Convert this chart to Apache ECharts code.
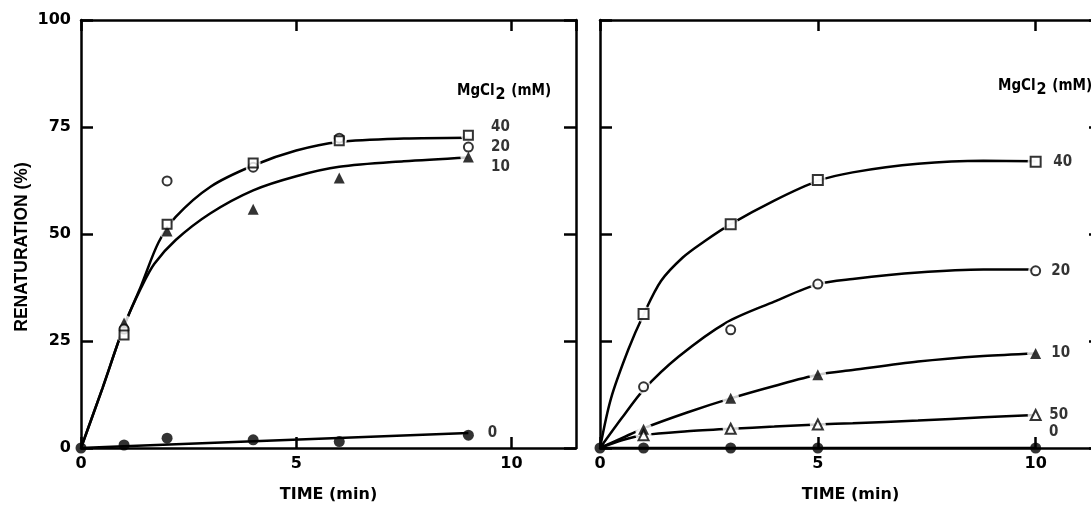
<!DOCTYPE html>
<html>
<head>
<meta charset="utf-8">
<script src="https://cdn.jsdelivr.net/npm/echarts@6/dist/echarts.min.js"></script>
<style>
html,body{margin:0;padding:0;background:#fff;}
#chart{width:1091px;height:506px;}
</style>
</head>
<body>
<div id="chart"></div>
<script>
// ---------- data ----------
// Left panel
const leftTime = [1, 2, 4, 6, 9];
const left40 = [26.4, 52.3, 66.6, 71.8, 73.1];
const left20 = [27.8, 62.4, 65.6, 72.4, 70.3];
const left10 = [29.2, 50.7, 55.8, 63.1, 68.0];
const left0Time = [0, 1, 2, 4, 6, 9];
const left0 = [0, 0.7, 2.3, 1.9, 1.5, 3.0];
const leftCurveTime = [0, 0.5, 1, 1.4, 1.8, 2.2, 3, 4, 5, 6, 7.5, 9];
const leftCurveUpper = [0, 14, 28.5, 38, 48, 54, 61, 66, 69.5, 71.5, 72.3, 72.5];
const leftCurveLowerTime = [0, 0.5, 1, 1.4, 1.7, 2.2, 3, 4, 5, 6, 7.5, 9];
const leftCurveLower = [0, 14, 28.5, 37.5, 43, 48.6, 54.8, 60.2, 63.5, 65.7, 67.0, 67.9];
const left0CurveTime = [0, 1, 9];
const left0Curve = [0, 0.4, 3.5];

// Right panel
const rightTime = [1, 3, 5, 10];
const right40 = [31.3, 52.3, 62.6, 66.9];
const right20 = [14.3, 27.6, 38.3, 41.4];
const right10 = [4.4, 11.6, 17.1, 22.1];
const right50 = [3.0, 4.5, 5.5, 7.7];
const right0Time = [0, 1, 3, 5, 10];
const right0 = [0, 0, 0, 0, 0];
const rightCurve40Time = [0, 0.25, 0.65, 1, 1.4, 1.9, 2.4, 3, 4, 5, 5.8, 7.3, 8.8, 10];
const rightCurve40 = [0, 11.5, 23, 31.2, 39, 44.5, 48.3, 52.3, 57.8, 62.4, 64.4, 66.4, 67.1, 67.0];
const rightCurve20Time = [0, 0.5, 1, 1.8, 2.9, 4, 5, 5.8, 7.3, 8.8, 10];
const rightCurve20 = [0, 7, 13.6, 21.3, 29.3, 34.2, 38.3, 39.5, 41.0, 41.7, 41.7];
const rightCurveTime = [0, 0.5, 1, 2, 3, 4, 5, 5.8, 7.3, 8.8, 10];
const rightCurve10 = [0, 2.3, 4.6, 8.3, 11.6, 14.5, 17.1, 18.2, 20.2, 21.5, 22.1];
const rightCurve50 = [0, 1.8, 3.0, 3.9, 4.5, 5.0, 5.5, 5.8, 6.4, 7.2, 7.7];
const rightCurve0Time = [0, 10];
const rightCurve0 = [0, 0];

// Axis ticks / labels
const xTicks = { min: 0, max: 11.5, interval: 5 };
const yTicks = { min: 0, max: 100, interval: 25 };
const xName = 'TIME (min)';
const yName = 'RENATURATION (%)';
const headingText = 'MgCl{s|2} (mM)';

// ---------- styling helpers ----------
const BLACK = '#000';
const tickFont = { fontFamily: 'DejaVu Sans', fontWeight: 'bold', fontSize: 16, color: BLACK };
const seriesLabelFont = { fontFamily: 'DejaVu Sans Condensed', fontWeight: 'bold', fontSize: 15, color: BLACK };

const pairs = (xs, ys) => xs.map((x, i) => [x, ys[i]]);

function curve(gridIdx, xs, ys) {
  return {
    type: 'line', xAxisIndex: gridIdx * 2, yAxisIndex: gridIdx * 2,
    data: pairs(xs, ys), smooth: 0.3,
    showSymbol: false, symbol: 'none', silent: true, z: 2,
    lineStyle: { color: BLACK, width: 2.5 }
  };
}
function halo(gridIdx, xs, ys, size) {
  return {
    type: 'scatter', xAxisIndex: gridIdx * 2, yAxisIndex: gridIdx * 2,
    data: pairs(xs, ys), symbol: 'circle', symbolSize: size + 6, silent: true, z: 3,
    itemStyle: { color: '#fff', borderWidth: 0 }
  };
}
function markers(gridIdx, xs, ys, symbol, filled, size, text, offset) {
  const last = xs.length - 1;
  return {
    type: 'scatter', xAxisIndex: gridIdx * 2, yAxisIndex: gridIdx * 2,
    symbol: symbol, symbolSize: size, silent: true, z: 4,
    itemStyle: filled ? { color: BLACK, borderWidth: 0 }
                      : { color: '#fff', borderColor: BLACK, borderWidth: 2 },
    data: pairs(xs, ys).map((v, i) => i === last && text ? {
      value: v,
      label: Object.assign({ show: true, formatter: text, position: 'inside',
        align: 'center', verticalAlign: 'middle', offset: offset }, seriesLabelFont)
    } : { value: v })
  };
}

function xAxes(gridIdx) {
  const base = Object.assign({ type: 'value', gridIndex: gridIdx }, xTicks);
  const line = { show: true, onZero: false, lineStyle: { color: BLACK, width: 2.5 } };
  const tick = { show: true, inside: true, length: 11, lineStyle: { color: BLACK, width: 2.5 } };
  return [
    Object.assign({}, base, {
      position: 'bottom', axisLine: line, axisTick: tick, splitLine: { show: false },
      axisLabel: Object.assign({ show: true, margin: 8, showMaxLabel: false, showMinLabel: true }, tickFont),
      name: xName, nameLocation: 'middle', nameGap: 39,
      nameTextStyle: { fontFamily: 'DejaVu Sans', fontWeight: 'bold', fontSize: 16, color: BLACK }
    }),
    Object.assign({}, base, {
      position: 'top', axisLine: line, axisTick: tick, splitLine: { show: false },
      axisLabel: { show: false }
    })
  ];
}
function yAxes(gridIdx, showLabels) {
  const base = Object.assign({ type: 'value', gridIndex: gridIdx }, yTicks);
  const line = { show: true, onZero: false, lineStyle: { color: BLACK, width: 2.5 } };
  const tick = { show: true, inside: true, length: 12, lineStyle: { color: BLACK, width: 2.5 } };
  const left = Object.assign({}, base, {
    position: 'left', axisLine: line, axisTick: tick, splitLine: { show: false },
    axisLabel: Object.assign({ show: showLabels, margin: 10 }, tickFont)
  });
  if (showLabels) {
    Object.assign(left, {
      name: yName, nameLocation: 'middle', nameGap: 50,
      nameTextStyle: { fontFamily: 'Liberation Sans', fontWeight: 'bold', fontSize: 17.5,
        color: BLACK, padding: [0, 26, 0, 0] }
    });
  }
  return [
    left,
    Object.assign({}, base, {
      position: 'right', axisLine: line, axisTick: tick, splitLine: { show: false },
      axisLabel: { show: false }
    })
  ];
}

const headingStyle = {
  fontFamily: 'DejaVu Sans Condensed', fontWeight: 'bold', fontSize: 15, color: BLACK,
  rich: { s: { fontFamily: 'DejaVu Sans Condensed', fontWeight: 'bold', fontSize: 16,
    color: BLACK, verticalAlign: 'bottom', padding: [7, 1, 0, 1] } }
};

const option = {
  animation: false,
  backgroundColor: '#fff',
  title: [
    { text: headingText, left: 457, top: 80, textStyle: headingStyle, padding: 0 },
    { text: headingText, left: 998, top: 75, textStyle: headingStyle, padding: 0 }
  ],
  grid: [
    { left: 81, right: 515, top: 20, bottom: 58, outerBoundsMode: 'none', containLabel: false },
    { left: 600, right: -10, top: 20, bottom: 58, outerBoundsMode: 'none', containLabel: false }
  ],
  xAxis: [].concat(xAxes(0), xAxes(1)),
  yAxis: [].concat(yAxes(0, true), yAxes(1, false)),
  series: [
    // left panel
    curve(0, leftCurveTime, leftCurveUpper),
    curve(0, leftCurveLowerTime, leftCurveLower),
    curve(0, left0CurveTime, left0Curve),
    halo(0, leftTime, left40, 9),
    halo(0, leftTime, left20, 9),
    halo(0, leftTime, left10, 10),
    markers(0, leftTime, left10, 'triangle', true, 11, '10', [32, 10]),
    markers(0, leftTime, left20, 'circle', false, 9, '20', [32, 0]),
    markers(0, leftTime, left40, 'rect', false, 9, '40', [32, -8]),
    markers(0, left0Time, left0, 'circle', true, 11, '0', [24, -2]),
    // right panel
    curve(1, rightCurve40Time, rightCurve40),
    curve(1, rightCurve20Time, rightCurve20),
    curve(1, rightCurveTime, rightCurve10),
    curve(1, rightCurveTime, rightCurve50),
    curve(1, rightCurve0Time, rightCurve0),
    halo(1, rightTime, right40, 10),
    halo(1, rightTime, right20, 9),
    halo(1, rightTime, right10, 11),
    halo(1, rightTime, right50, 10),
    markers(1, rightTime, right40, 'rect', false, 10, '40', [27, 0]),
    markers(1, rightTime, right20, 'circle', false, 9, '20', [25, 0]),
    markers(1, rightTime, right10, 'triangle', true, 11, '10', [25, 0]),
    markers(1, rightTime, right50, 'triangle', false, 10, '50', [23, 0]),
    markers(1, right0Time, right0, 'circle', true, 11, '0', [18, -16])
  ]
};

const chart = echarts.init(document.getElementById('chart'), null, { renderer: 'canvas' });
chart.setOption(option);
</script>
</body>
</html>
